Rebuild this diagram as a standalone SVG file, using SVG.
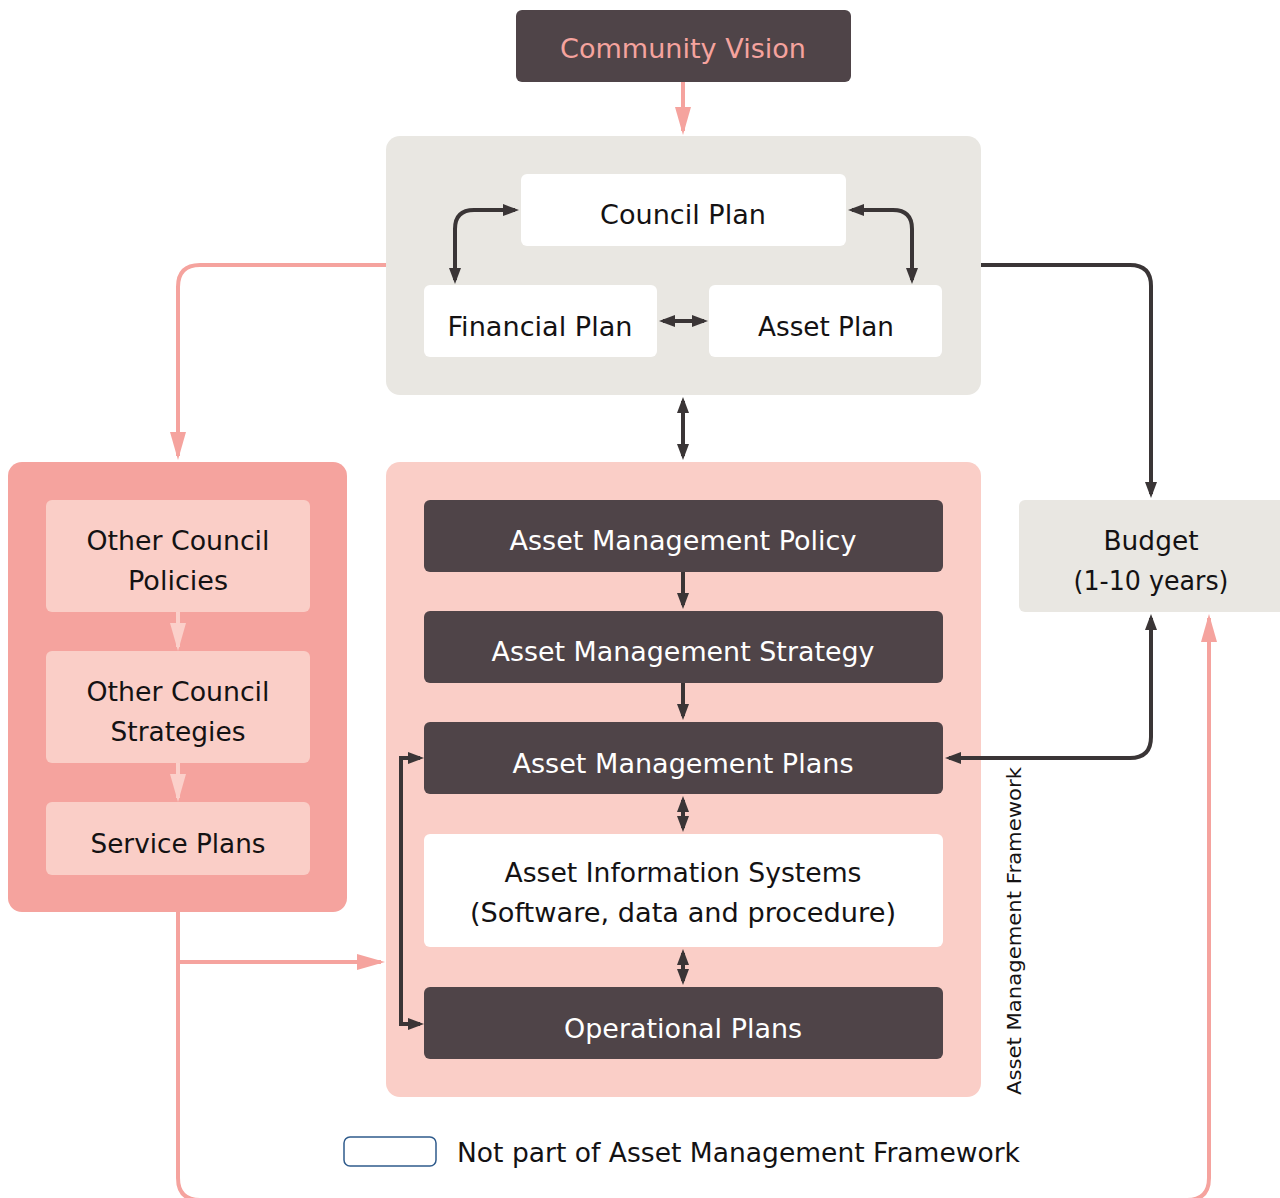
<svg xmlns="http://www.w3.org/2000/svg" width="1280" height="1198" viewBox="0 0 1280 1198">
<defs>
<style>
.t{font-family:"DejaVu Sans","Liberation Sans",sans-serif;font-size:26px;text-anchor:middle;fill:#141213}
.w{fill:#ffffff}
.cv{fill:#f5a39e}
.dark{fill:#4f4448}
.grey{fill:#e9e7e2}
.white{fill:#ffffff}
.salmon{fill:#f5a39e}
.pink{fill:#facec7}
.cd{fill:none;stroke:#3a3536;stroke-width:4}
.cs{fill:none;stroke:#f5a39e;stroke-width:4}
.cp{fill:none;stroke:#fbd0ca;stroke-width:4}
</style>
<marker id="ad" markerUnits="userSpaceOnUse" markerWidth="16" markerHeight="12" refX="12" refY="6" orient="auto-start-reverse"><path d="M0,0 L16,6 L0,12 z" fill="#3a3536"/></marker>
<marker id="as" markerUnits="userSpaceOnUse" markerWidth="28" markerHeight="16" refX="24" refY="8" orient="auto-start-reverse"><path d="M0,0 L28,8 L0,16 z" fill="#f5a39e"/></marker>
<marker id="ap" markerUnits="userSpaceOnUse" markerWidth="28" markerHeight="16" refX="24" refY="8" orient="auto-start-reverse"><path d="M0,0 L28,8 L0,16 z" fill="#fbd0ca"/></marker>
</defs>
<rect width="1280" height="1198" fill="#ffffff"/>

<g id="council-group"><rect class="grey" x="386" y="136" width="595" height="259" rx="14"/></g>
<g id="other-group"><rect class="salmon" x="8" y="462" width="339" height="450" rx="14"/></g>
<g id="amf-group"><rect class="pink" x="386" y="462" width="595" height="635" rx="14"/></g>

<g id="connectors">
<path class="cs" d="M683 82 V131" marker-end="url(#as)"/>
<path class="cd" d="M515 210 H474 Q455 210 455 229 V280" marker-start="url(#ad)" marker-end="url(#ad)"/>
<path class="cd" d="M852 210 H893 Q912 210 912 229 V280" marker-start="url(#ad)" marker-end="url(#ad)"/>
<path class="cd" d="M663 321 H704" marker-start="url(#ad)" marker-end="url(#ad)"/>
<path class="cs" d="M386 265 H200 Q178 265 178 287 V456" marker-end="url(#as)"/>
<path class="cd" d="M981 265 H1130 Q1151 265 1151 286 V494" marker-end="url(#ad)"/>
<path class="cd" d="M683 401 V456" marker-start="url(#ad)" marker-end="url(#ad)"/>
<path class="cp" d="M178 612 V647" marker-end="url(#ap)"/>
<path class="cp" d="M178 763 V798" marker-end="url(#ap)"/>
<path class="cd" d="M683 572 V605" marker-end="url(#ad)"/>
<path class="cd" d="M683 683 V716" marker-end="url(#ad)"/>
<path class="cd" d="M683 800 V828" marker-start="url(#ad)" marker-end="url(#ad)"/>
<path class="cd" d="M683 953 V981" marker-start="url(#ad)" marker-end="url(#ad)"/>
<path class="cd" d="M420 758 H401 V1024 H420" marker-start="url(#ad)" marker-end="url(#ad)"/>
<path class="cd" d="M1151 618 V737 Q1151 758 1130 758 H949" marker-start="url(#ad)" marker-end="url(#ad)"/>
<path class="cs" d="M178 962 H381" marker-end="url(#as)"/>
<path class="cs" d="M178 912 V1178 Q178 1200 200 1200 H1187 Q1209 1200 1209 1178 V618" marker-end="url(#as)"/>
</g>

<g id="community-vision"><rect class="dark" x="516" y="10" width="335" height="72" rx="6"/><text class="t cv" x="683" y="58" textLength="246" lengthAdjust="spacingAndGlyphs">Community Vision</text></g>
<g id="council-plan"><rect class="white" x="521" y="174" width="325" height="72" rx="6"/><text class="t" x="683" y="224" textLength="166" lengthAdjust="spacingAndGlyphs">Council Plan</text></g>
<g id="financial-plan"><rect class="white" x="424" y="285" width="233" height="72" rx="6"/><text class="t" x="540" y="336" textLength="185" lengthAdjust="spacingAndGlyphs">Financial Plan</text></g>
<g id="asset-plan"><rect class="white" x="709" y="285" width="233" height="72" rx="6"/><text class="t" x="826" y="336" textLength="136" lengthAdjust="spacingAndGlyphs">Asset Plan</text></g>

<g id="other-policies"><rect class="pink" x="46" y="500" width="264" height="112" rx="6"/><text class="t" x="178" y="550" textLength="183" lengthAdjust="spacingAndGlyphs">Other Council</text><text class="t" x="178" y="590" textLength="100" lengthAdjust="spacingAndGlyphs">Policies</text></g>
<g id="other-strategies"><rect class="pink" x="46" y="651" width="264" height="112" rx="6"/><text class="t" x="178" y="701" textLength="183" lengthAdjust="spacingAndGlyphs">Other Council</text><text class="t" x="178" y="741" textLength="135" lengthAdjust="spacingAndGlyphs">Strategies</text></g>
<g id="service-plans"><rect class="pink" x="46" y="802" width="264" height="73" rx="6"/><text class="t" x="178" y="853" textLength="175" lengthAdjust="spacingAndGlyphs">Service Plans</text></g>

<g id="am-policy"><rect class="dark" x="424" y="500" width="519" height="72" rx="6"/><text class="t w" x="683" y="550" textLength="347" lengthAdjust="spacingAndGlyphs">Asset Management Policy</text></g>
<g id="am-strategy"><rect class="dark" x="424" y="611" width="519" height="72" rx="6"/><text class="t w" x="683" y="661" textLength="383" lengthAdjust="spacingAndGlyphs">Asset Management Strategy</text></g>
<g id="am-plans"><rect class="dark" x="424" y="722" width="519" height="72" rx="6"/><text class="t w" x="683" y="773" textLength="341" lengthAdjust="spacingAndGlyphs">Asset Management Plans</text></g>
<g id="ais"><rect class="white" x="424" y="834" width="519" height="113" rx="6"/><text class="t" x="683" y="882" textLength="357" lengthAdjust="spacingAndGlyphs">Asset Information Systems</text><text class="t" x="683" y="922" textLength="426" lengthAdjust="spacingAndGlyphs">(Software, data and procedure)</text></g>
<g id="operational-plans"><rect class="dark" x="424" y="987" width="519" height="72" rx="6"/><text class="t w" x="683" y="1038" textLength="238" lengthAdjust="spacingAndGlyphs">Operational Plans</text></g>

<g id="budget"><rect class="grey" x="1019" y="500" width="270" height="112" rx="6"/><text class="t" x="1151" y="550" textLength="95" lengthAdjust="spacingAndGlyphs">Budget</text><text class="t" x="1151" y="590" textLength="155" lengthAdjust="spacingAndGlyphs">(1-10 years)</text></g>

<g id="framework-label"><text class="t" style="font-size:19px" transform="translate(1021 931) rotate(-90)" x="0" y="0" textLength="328" lengthAdjust="spacingAndGlyphs">Asset Management Framework</text></g>

<g id="legend"><rect x="344" y="1137" width="92" height="29" rx="6" fill="#ffffff" stroke="#2f5b8c" stroke-width="1.5"/><text class="t" style="text-anchor:start" x="457" y="1162" textLength="563" lengthAdjust="spacingAndGlyphs">Not part of Asset Management Framework</text></g>
</svg>
